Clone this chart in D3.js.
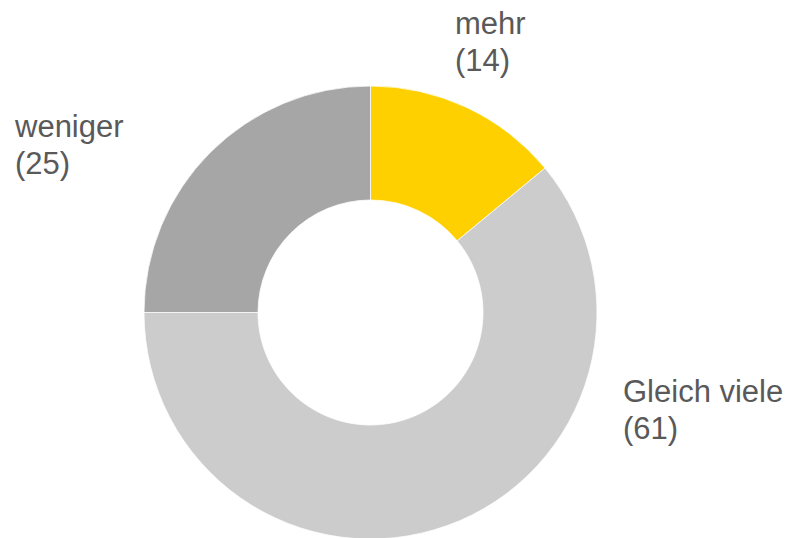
<!DOCTYPE html>
<html>
<head>
<meta charset="utf-8">
<script src="https://cdn.jsdelivr.net/npm/d3@7"></script>
<style>
	html, body { margin: 0; padding: 0; background: #fff; }
	svg { display: block; }
</style>
</head>
<body>
<div id="chart"></div>
<script>
const categories = ["mehr", "Gleich viele", "weniger"];
const values = [14, 61, 25];
const colors = ["#FFD000", "#CCCCCC", "#A6A6A6"];

const W = 791, H = 538;
const cx = 370.5, cy = 312.5;
const outerR = 226.5, innerR = 112.5;

// label anchor points (left edge, first baseline)
const labelPos = [
	{ x: 455, y: 34 },
	{ x: 623, y: 402 },
	{ x: 15, y: 137 }
];

const svg = d3.select("#chart").append("svg")
	.attr("width", W)
	.attr("height", H);

const data = categories.map((c, i) => ({ label: c, value: values[i], color: colors[i] }));

const pie = d3.pie()
	.value(d => d.value)
	.sort(null);

const arc = d3.arc()
	.innerRadius(innerR)
	.outerRadius(outerR);

const g = svg.append("g")
	.attr("transform", `translate(${cx},${cy})`);

g.selectAll("path")
	.data(pie(data))
	.join("path")
	.attr("d", arc)
	.attr("fill", d => d.data.color)
	.attr("stroke", "#fff")
	.attr("stroke-width", 0.75);

// Labels: name + (value)
const labels = svg.selectAll(".slice-label")
	.data(data)
	.join("text")
	.attr("class", "slice-label")
	.attr("x", (d, i) => labelPos[i].x)
	.attr("y", (d, i) => labelPos[i].y)
	.style("fill", "#595959")
	.style("font-family", "'Liberation Sans', Arial, sans-serif")
	.style("font-size", "31px");

labels.append("tspan")
	.attr("x", (d, i) => labelPos[i].x)
	.text(d => d.label);

labels.append("tspan")
	.attr("x", (d, i) => labelPos[i].x)
	.attr("dy", 37)
	.text(d => `(${d.value})`);
</script>
</body>
</html>
